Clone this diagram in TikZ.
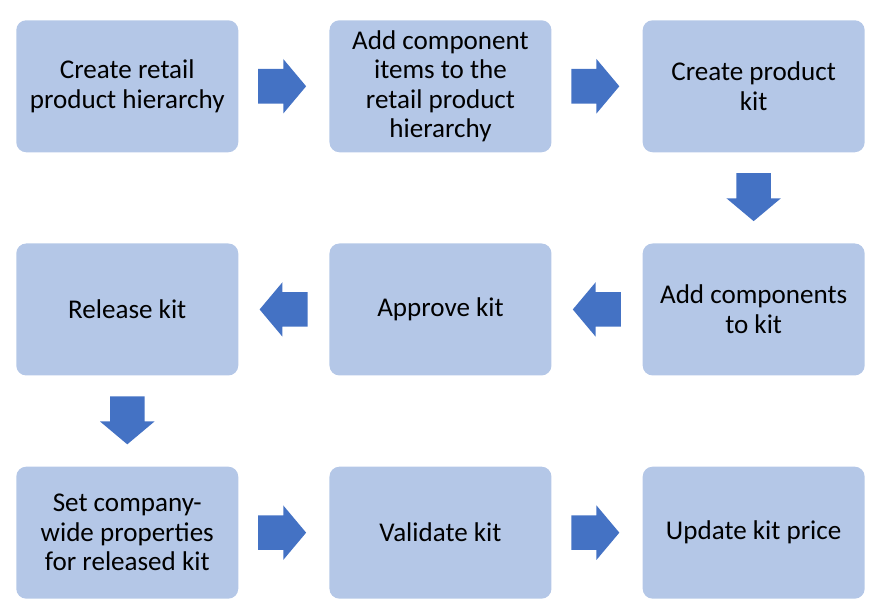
\documentclass[tikz,border=0pt]{standalone}
\usepackage{fontspec}
\setmainfont{Carlito}
\usepackage{tikz}
\usetikzlibrary{positioning,shapes.arrows,calc}
\definecolor{boxblue}{HTML}{B4C7E7}
\definecolor{arrowblue}{HTML}{4472C4}

\begin{document}
\begin{tikzpicture}[
    x=0.75pt, y=-0.75pt,
    node distance=68pt,
    stepbox/.style={fill=boxblue, rounded corners=7.5pt, minimum width=166.5pt,
      minimum height=99pt, inner sep=0pt, align=center,
      font=\fontsize{20.3}{22.2}\selectfont},
    blockarrow/.style={single arrow, fill=arrowblue, minimum height=36pt,
      single arrow head extend=7.5pt, single arrow tip angle=100, anchor=tail},
    rightarrow/.style={blockarrow, inner xsep=0pt, inner ysep=12.75pt},
    leftarrow/.style={rightarrow, shape border rotate=180},
    downarrow/.style={blockarrow, inner xsep=12.75pt, inner ysep=0pt,
      shape border rotate=270}
  ]
  \useasboundingbox (0,0) rectangle (882,610);
  % first row
  \node[stepbox, anchor=north west] (b1) at (16,20) {Create retail\\product hierarchy};
  \node[stepbox, right=of b1] (b2) {Add component\\items to the\\retail product\\hierarchy};
  \node[stepbox, right=of b2] (b3) {Create product\\kit};
  % second row
  \node[stepbox, below=of b3] (b4) {Add components\\to kit};
  \node[stepbox, left=of b4] (b5) {Approve kit};
  \node[stepbox, left=of b5] (b6) {Release kit};
  % third row
  \node[stepbox, below=of b6] (b7) {Set company-\\wide properties\\for released kit};
  \node[stepbox, right=of b7] (b8) {Validate kit};
  \node[stepbox, right=of b8] (b9) {Update kit price};
  % block arrows (tail placed half a length before the gap centre)
  \node[rightarrow] (a12) at ($(b1.east)!0.5!(b2.west)+(-26,0)$) {};
  \node[rightarrow] (a23) at ($(b2.east)!0.5!(b3.west)+(-26,0)$) {};
  \node[downarrow] (a34) at ($(b3.south)!0.5!(b4.north)+(0,-25)$) {};
  \node[leftarrow] (a45) at ($(b4.west)!0.5!(b5.east)+(24,0)$) {};
  \node[leftarrow] (a56) at ($(b5.west)!0.5!(b6.east)+(24,0)$) {};
  \node[downarrow] (a67) at ($(b6.south)!0.5!(b7.north)+(0,-25)$) {};
  \node[rightarrow] (a78) at ($(b7.east)!0.5!(b8.west)+(-26,0)$) {};
  \node[rightarrow] (a89) at ($(b8.east)!0.5!(b9.west)+(-26,0)$) {};
\end{tikzpicture}
\end{document}
